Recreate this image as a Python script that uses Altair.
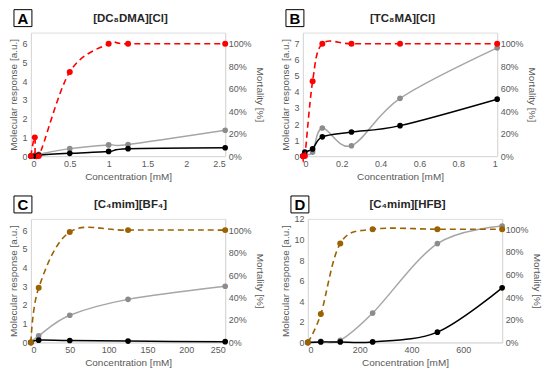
import altair as alt
import pandas as pd

# ---------------- data ----------------
A_x = [0, 0.05, 0.1, 0.5, 1, 1.25, 2.5]
A_gray = [0, 0.05, 0.1, 0.4, 0.6, 0.62, 1.38]
A_black = [0, 0.0, 0.05, 0.15, 0.25, 0.4, 0.45]
A_mort = [0, 16.7, 0, 75, 100, 100, 100]

B_x = [0, 0.01, 0.05, 0.1, 0.25, 0.5, 1]
B_gray = [0, 0.1, 0.25, 1.75, 0.65, 3.6, 6.75]
B_black = [0, 0.25, 0.45, 1.2, 1.5, 1.9, 3.55]
B_mort = [0, 0, 66.7, 100, 100, 100, 100]

C_x = [0, 10, 50, 125, 250]
C_gray = [0, 0.35, 1.45, 2.3, 3.0]
C_black = [0, 0.12, 0.1, 0.07, 0.04]
C_mort = [0, 48.6, 98.3, 100, 100]

D_x = [0, 50, 125, 250, 500, 750]
D_gray = [0, 0.1, 0.2, 2.85, 9.6, 11.3]
D_black = [0, 0.05, 0.05, 0.05, 1.0, 5.3]
D_mort = [0, 25, 87.3, 100, 100, 100]

letters = ["A", "B", "C", "D"]
titles = ["[DC₈DMA][Cl]", "[TC₈MA][Cl]", "[C₄mim][BF₄]", "[C₄mim][HFB]"]
x_ticks = [[0, 0.5, 1, 1.5, 2, 2.5], [0, 0.2, 0.4, 0.6, 0.8, 1],
           [0, 50, 100, 150, 200, 250], [0, 200, 400, 600]]
x_max = [2.5, 1, 250, 750]
y_ticks = [[0, 1, 2, 3, 4, 5, 6], [0, 1, 2, 3, 4, 5, 6, 7],
           [0, 1, 2, 3, 4, 5, 6], [0, 2, 4, 6, 8, 10, 12]]
y_max = [6.6, 7.7, 6.6, 12]
y_ref100 = [6, 7, 6, 11]   # left-axis value aligned with 100 %
mort_ticks = [0, 20, 40, 60, 80, 100]
mort_color = ["#ff0000", "#ff0000", "#9a6200", "#9a6200"]

panels = [
    (A_x, A_gray, A_black, A_mort),
    (B_x, B_gray, B_black, B_mort),
    (C_x, C_gray, C_black, C_mort),
    (D_x, D_gray, D_black, D_mort),
]

FONT = "Liberation Sans"
AX = "#d9d9d9"
LAB = "#595959"
W, H = 195, 124


def panel(i):
    xs, g, b, m = panels[i]
    resp = pd.DataFrame({
        "x": xs * 2,
        "v": g + b,
        "s": ["gray"] * len(xs) + ["black"] * len(xs),
    })
    mort = pd.DataFrame({"x": xs, "m": m})

    xenc = alt.X("x:Q", scale=alt.Scale(domain=[0, x_max[i]], nice=False),
                 axis=alt.Axis(values=x_ticks[i], labelExpr="toString(round(datum.value*10)/10)",
                               title="Concentration [mM]",
                               ticks=False, grid=False, domainColor=AX, labelColor=LAB,
                               titleColor=LAB, labelFontSize=9, titleFontSize=10,
                               titleFontWeight="normal", labelPadding=3, titlePadding=3))
    yaxis = alt.Axis(values=y_ticks[i], title="Molecular response [a.u.]", grid=False,
                     domainColor=AX, ticks=False, labelColor=LAB,
                     titleColor=LAB, labelFontSize=9, titleFontSize=10,
                     titleFontWeight="normal", labelPadding=4, titlePadding=3)
    yenc = alt.Y("v:Q", scale=alt.Scale(domain=[0, y_max[i]], nice=False), axis=yaxis)

    rline = alt.Chart(resp).mark_line(interpolate="cardinal", strokeWidth=1.5).encode(
        x=xenc, y=yenc,
        stroke=alt.Stroke("s:N", scale=alt.Scale(domain=["gray", "black"],
                                                 range=["#a6a6a6", "#000000"]), legend=None),
    )
    rpts = alt.Chart(resp).mark_circle(size=32, opacity=1).encode(
        x=xenc, y=yenc,
        fill=alt.Fill("s:N", scale=alt.Scale(domain=["gray", "black"],
                                             range=["#8c8c8c", "#000000"]), legend=None),
    )
    left = alt.layer(rline, rpts)

    mtop = 100.0 * y_max[i] / y_ref100[i]
    maxis = alt.Axis(values=mort_ticks, labelExpr="datum.value + '%'", title="Mortality [%]",
                     orient="right", grid=False, domainColor=AX, ticks=False,
                     labelColor=LAB, titleColor=LAB, labelFontSize=9, titleFontSize=10,
                     titleFontWeight="normal", labelPadding=3, titlePadding=3)
    menc = alt.Y("m:Q", scale=alt.Scale(domain=[0, mtop], nice=False), axis=maxis)
    mline = alt.Chart(mort).mark_line(interpolate="cardinal", strokeWidth=1.6,
                                      strokeDash=[6, 4], color=mort_color[i]).encode(x=xenc, y=menc)
    mpts = alt.Chart(mort).mark_circle(size=36, opacity=1, color=mort_color[i]).encode(x=xenc, y=menc)
    right = alt.layer(mline, mpts)

    one = pd.DataFrame({"k": [0]})
    box = alt.Chart(one).mark_rect(fill="white", stroke="#000000", strokeWidth=1).encode(
        x=alt.value(-17), x2=alt.value(1), y=alt.value(-23), y2=alt.value(-6))
    letter = alt.Chart(one).mark_text(text=letters[i], font=FONT, fontSize=15, fontWeight="bold",
                                      color="#000000", baseline="middle", align="center").encode(
        x=alt.value(-8), y=alt.value(-14))
    title = alt.Chart(one).mark_text(text=titles[i], font=FONT, fontSize=11.5, fontWeight="bold",
                                     color="#262626", baseline="middle", align="center").encode(
        x=alt.value(100), y=alt.value(-14))

    return alt.layer(left, right, box, letter, title).resolve_scale(
        y="independent", stroke="independent", fill="independent").properties(width=W, height=H)


row1 = alt.hconcat(panel(0), panel(1), spacing=15)
row2 = alt.hconcat(panel(2), panel(3), spacing=15)
chart = alt.vconcat(row1, row2, spacing=13).properties(padding=0).configure_view(
    stroke=None).configure_axis(labelFont=FONT, titleFont=FONT).configure(background="white")

chart.save("out.html", embed_options={"renderer": "svg", "actions": False})
